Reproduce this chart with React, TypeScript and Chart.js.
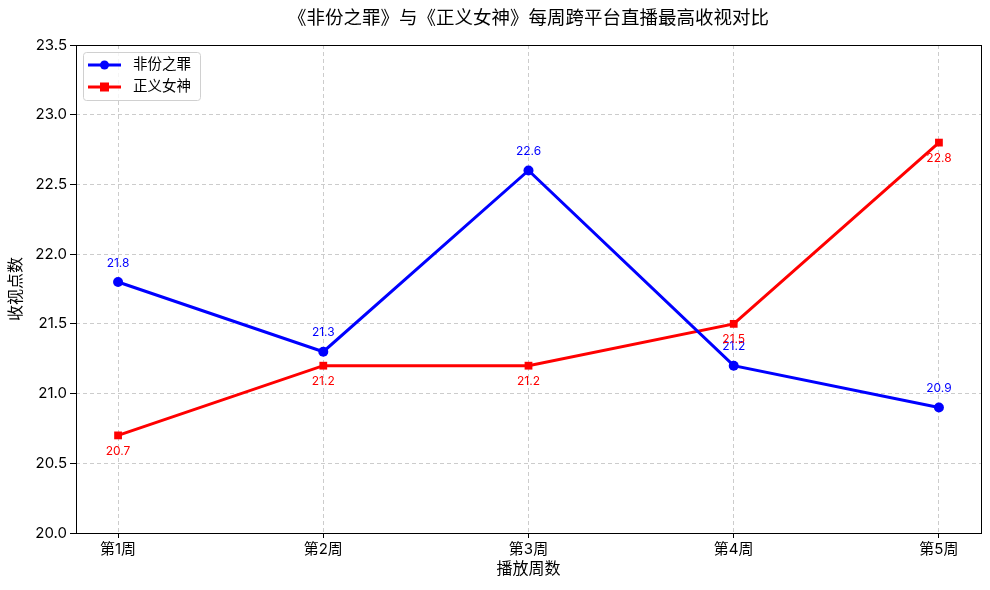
import React, { useEffect, useRef } from "react";
import { Chart, registerables } from "chart.js";

Chart.register(...registerables);

const categories = ["第1周", "第2周", "第3周", "第4周", "第5周"];
const seriesA = [21.8, 21.3, 22.6, 21.2, 20.9];
const seriesB = [20.7, 21.2, 21.2, 21.5, 22.8];
const nameA = "非份之罪";
const nameB = "正义女神";
const yTicks = [20.0, 20.5, 21.0, 21.5, 22.0, 22.5, 23.0, 23.5];
const titleText = "《非份之罪》与《正义女神》每周跨平台直播最高收视对比";
const xTitle = "播放周数";
const yTitle = "收视点数";

const FONT = 'Inter, "Noto Sans CJK SC", "Noto Sans", sans-serif';

export default function App() {
  const ref = useRef<HTMLCanvasElement | null>(null);

  useEffect(() => {
    document.body.style.margin = "0";
    const canvas = ref.current!;
    const overlay = {
      id: "overlay",
      afterDatasetsDraw(chart: any) {
        const ctx = chart.ctx;
        const a = chart.chartArea;
        const xs = chart.scales.x;
        const ys = chart.scales.y;
        ctx.save();
        // frame
        ctx.strokeStyle = "#000";
        ctx.lineWidth = 1;
        ctx.setLineDash([]);
        ctx.strokeRect(a.left + 0.5, a.top + 0.5, a.right - a.left, a.bottom - a.top);
        // data labels
        ctx.font = `12px ${FONT}`;
        ctx.textAlign = "center";
        ctx.textBaseline = "middle";
        seriesA.forEach((v, i) => {
          ctx.fillStyle = "#0000ff";
          ctx.fillText(v.toFixed(1), xs.getPixelForValue(i), ys.getPixelForValue(v) - 19);
        });
        seriesB.forEach((v, i) => {
          ctx.fillStyle = "#ff0000";
          ctx.fillText(v.toFixed(1), xs.getPixelForValue(i), ys.getPixelForValue(v) + 16);
        });
        // title
        ctx.fillStyle = "#000";
        ctx.font = `18.5px ${FONT}`;
        ctx.fillText(titleText, (a.left + a.right) / 2, 18);
        // axis titles
        ctx.font = `16px ${FONT}`;
        ctx.fillText(xTitle, (a.left + a.right) / 2, 569);
        ctx.save();
        ctx.translate(16, (a.top + a.bottom) / 2);
        ctx.rotate(-Math.PI / 2);
        ctx.fillText(yTitle, 0, 0);
        ctx.restore();
        // legend
        const lx = a.left + 7, ly = a.top + 7, lw = 117, lh = 48;
        ctx.fillStyle = "rgba(255,255,255,0.8)";
        ctx.strokeStyle = "#d0d0d0";
        ctx.lineWidth = 1;
        ctx.beginPath();
        if ((ctx as any).roundRect) (ctx as any).roundRect(lx + 0.5, ly + 0.5, lw, lh, 3);
        else ctx.rect(lx + 0.5, ly + 0.5, lw, lh);
        ctx.fill();
        ctx.stroke();
        const rows = [
          { name: nameA, color: "#0000ff", shape: "circle" },
          { name: nameB, color: "#ff0000", shape: "square" },
        ];
        rows.forEach((r, k) => {
          const y = ly + 13 + k * 22;
          ctx.strokeStyle = r.color;
          ctx.fillStyle = r.color;
          ctx.lineWidth = 3;
          ctx.beginPath();
          ctx.moveTo(lx + 5, y);
          ctx.lineTo(lx + 38, y);
          ctx.stroke();
          ctx.beginPath();
          if (r.shape === "circle") {
            ctx.arc(lx + 21.5, y, 4.5, 0, Math.PI * 2);
          } else {
            ctx.rect(lx + 17, y - 4.5, 9, 9);
          }
          ctx.fill();
          ctx.fillStyle = "#000";
          ctx.font = `14.5px ${FONT}`;
          ctx.textAlign = "left";
          ctx.fillText(r.name, lx + 50, y);
        });
        ctx.restore();
      },
    };

    const chart = new Chart(canvas, {
      type: "line",
      data: {
        datasets: [
          {
            label: nameA,
            data: seriesA.map((v, i) => ({ x: i, y: v })),
            borderColor: "#0000ff",
            backgroundColor: "#0000ff",
            borderWidth: 3,
            pointStyle: "circle",
            pointRadius: 5,
            pointBorderWidth: 0,
            tension: 0,
          },
          {
            label: nameB,
            data: seriesB.map((v, i) => ({ x: i, y: v })),
            borderColor: "#ff0000",
            backgroundColor: "#ff0000",
            borderWidth: 3,
            pointStyle: "rect",
            pointRadius: 5.5,
            pointBorderWidth: 0,
            tension: 0,
          },
        ],
      },
      options: {
        animation: false,
        responsive: false,
        layout: { padding: { top: 45, right: 9, left: 0, bottom: 0 } },
        plugins: { legend: { display: false }, tooltip: { enabled: false } },
        scales: {
          x: {
            type: "linear",
            min: -0.205,
            max: 4.205,
            afterBuildTicks(scale: any) {
              scale.ticks = categories.map((_, i) => ({ value: i }));
            },
            afterFit(scale: any) {
              scale.height = 57;
            },
            ticks: {
              callback: (v: any) => categories[v as number] ?? "",
              color: "#000",
              font: { family: FONT, size: 15 },
              padding: 2,
              maxRotation: 0,
              autoSkip: false,
            },
            grid: {
              color: "#cccccc",
              tickColor: "#000",
              tickLength: 5,
              lineWidth: 1,
            } as any,
            border: { display: false, dash: [4, 3] } as any,
          },
          y: {
            type: "linear",
            min: 20,
            max: 23.5,
            afterBuildTicks(scale: any) {
              scale.ticks = yTicks.map((v) => ({ value: v }));
            },
            afterFit(scale: any) {
              scale.width = 76;
            },
            ticks: {
              callback: (v: any) => Number(v).toFixed(1),
              color: "#000",
              font: { family: FONT, size: 15 },
              padding: 3,
            },
            grid: {
              color: "#cccccc",
              tickColor: "#000",
              tickLength: 6,
              lineWidth: 1,
            } as any,
            border: { display: false, dash: [4, 3] } as any,
          },
        },
      } as any,
      plugins: [overlay],
    });
    return () => chart.destroy();
  }, []);

  return (
    <div style={{ width: 990, height: 590 }}>
      <canvas ref={ref} width={990} height={590} style={{ display: "block" }} />
    </div>
  );
}
